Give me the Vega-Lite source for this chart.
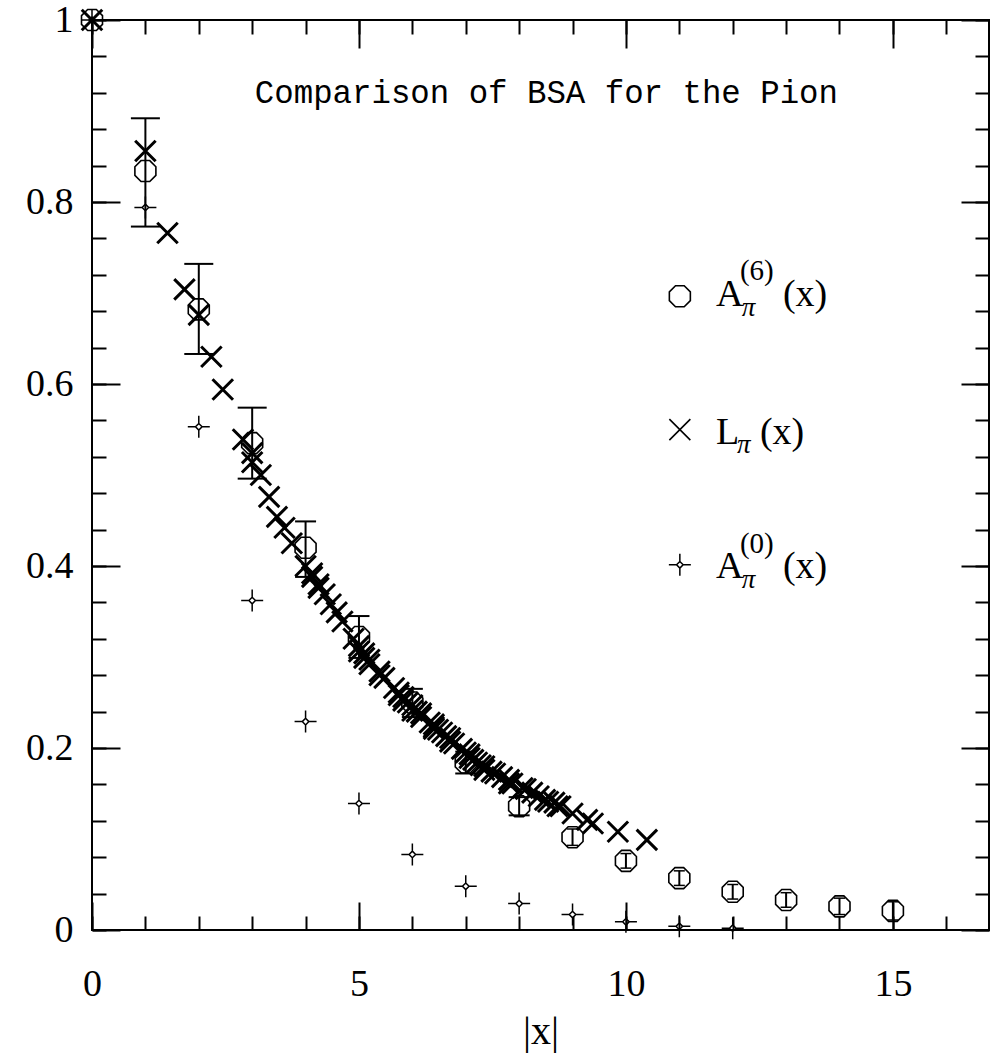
{
  "$schema": "https://vega.github.io/schema/vega-lite/v6.json",
  "width": 897,
  "height": 910,
  "autosize": {"type": "none"},
  "padding": {"left": 92, "top": 20, "right": 7, "bottom": 127},
  "background": "white",
  "config": {
    "view": {"stroke": "black", "strokeWidth": 2},
    "axis": {"domain": false, "grid": false, "tickColor": "black", "tickWidth": 2, "labelColor": "black", "labelFont": "Liberation Serif", "titleFont": "Liberation Serif", "titleColor": "black", "titleFontWeight": "normal"}
  },
  "datasets": {
    "a6": [
      {"x": 0, "y": 1.0, "lo": 1.0, "hi": 1.0},
      {"x": 1, "y": 0.834, "lo": 0.773, "hi": 0.892},
      {"x": 2, "y": 0.682, "lo": 0.633, "hi": 0.732},
      {"x": 3, "y": 0.535, "lo": 0.496, "hi": 0.574},
      {"x": 4, "y": 0.420, "lo": 0.388, "hi": 0.449},
      {"x": 5, "y": 0.322, "lo": 0.299, "hi": 0.345},
      {"x": 6, "y": 0.250, "lo": 0.234, "hi": 0.265},
      {"x": 7, "y": 0.184, "lo": 0.172, "hi": 0.196},
      {"x": 8, "y": 0.136, "lo": 0.126, "hi": 0.146},
      {"x": 9, "y": 0.102, "lo": 0.093, "hi": 0.111},
      {"x": 10, "y": 0.076, "lo": 0.068, "hi": 0.084},
      {"x": 11, "y": 0.057, "lo": 0.049, "hi": 0.065},
      {"x": 12, "y": 0.042, "lo": 0.034, "hi": 0.050},
      {"x": 13, "y": 0.033, "lo": 0.025, "hi": 0.041},
      {"x": 14, "y": 0.026, "lo": 0.017, "hi": 0.035},
      {"x": 15, "y": 0.021, "lo": 0.011, "hi": 0.031}
    ],
    "a0": [
      {"x": 0, "y": 1.0}, {"x": 1, "y": 0.794}, {"x": 2, "y": 0.553}, {"x": 3, "y": 0.362},
      {"x": 4, "y": 0.229}, {"x": 5, "y": 0.139}, {"x": 6, "y": 0.083}, {"x": 7, "y": 0.048},
      {"x": 8, "y": 0.029}, {"x": 9, "y": 0.017}, {"x": 10, "y": 0.009}, {"x": 11, "y": 0.004},
      {"x": 12, "y": 0.002}
    ],
    "lpi": [
      {"x": 0, "y": 1.0}, {"x": 1, "y": 0.856}, {"x": 1.414, "y": 0.766}, {"x": 1.732, "y": 0.704},
      {"x": 2, "y": 0.676}, {"x": 2.236, "y": 0.630}, {"x": 2.449, "y": 0.594}, {"x": 2.828, "y": 0.539},
      {"x": 3, "y": 0.524}, {"x": 3, "y": 0.514}, {"x": 3.162, "y": 0.500}, {"x": 3.317, "y": 0.476},
      {"x": 3.464, "y": 0.454}, {"x": 3.606, "y": 0.442}, {"x": 3.742, "y": 0.425}, {"x": 4, "y": 0.400},
      {"x": 4.123, "y": 0.392}, {"x": 4.123, "y": 0.388}, {"x": 4.243, "y": 0.380}, {"x": 4.243, "y": 0.376},
      {"x": 4.359, "y": 0.369}, {"x": 4.472, "y": 0.358}, {"x": 4.583, "y": 0.349}, {"x": 4.690, "y": 0.339},
      {"x": 4.899, "y": 0.320}, {"x": 5, "y": 0.312}, {"x": 5, "y": 0.306}, {"x": 5.099, "y": 0.304},
      {"x": 5.099, "y": 0.299}, {"x": 5.196, "y": 0.297}, {"x": 5.196, "y": 0.292}, {"x": 5.385, "y": 0.284},
      {"x": 5.385, "y": 0.280}, {"x": 5.477, "y": 0.277}, {"x": 5.657, "y": 0.266}, {"x": 5.745, "y": 0.261},
      {"x": 5.745, "y": 0.258}, {"x": 5.831, "y": 0.256}, {"x": 5.831, "y": 0.252}, {"x": 5.916, "y": 0.250},
      {"x": 6, "y": 0.247}, {"x": 6, "y": 0.241}, {"x": 6.083, "y": 0.240}, {"x": 6.164, "y": 0.238},
      {"x": 6.164, "y": 0.234}, {"x": 6.325, "y": 0.228}, {"x": 6.403, "y": 0.226}, {"x": 6.403, "y": 0.223},
      {"x": 6.403, "y": 0.221}, {"x": 6.481, "y": 0.220}, {"x": 6.557, "y": 0.217}, {"x": 6.633, "y": 0.213},
      {"x": 6.708, "y": 0.211}, {"x": 6.708, "y": 0.207}, {"x": 6.782, "y": 0.205}, {"x": 6.928, "y": 0.199},
      {"x": 7, "y": 0.195}, {"x": 7.071, "y": 0.193}, {"x": 7.071, "y": 0.189}, {"x": 7.141, "y": 0.187},
      {"x": 7.211, "y": 0.184}, {"x": 7.280, "y": 0.181}, {"x": 7.348, "y": 0.180}, {"x": 7.348, "y": 0.176},
      {"x": 7.483, "y": 0.174}, {"x": 7.550, "y": 0.172}, {"x": 7.681, "y": 0.168}, {"x": 7.810, "y": 0.165},
      {"x": 7.810, "y": 0.161}, {"x": 7.874, "y": 0.161}, {"x": 8.062, "y": 0.156}, {"x": 8.124, "y": 0.155},
      {"x": 8.246, "y": 0.151}, {"x": 8.367, "y": 0.147}, {"x": 8.485, "y": 0.143}, {"x": 8.544, "y": 0.141},
      {"x": 8.660, "y": 0.140}, {"x": 8.718, "y": 0.136}, {"x": 8.775, "y": 0.136}, {"x": 9, "y": 0.128},
      {"x": 9.274, "y": 0.121}, {"x": 9.381, "y": 0.117}, {"x": 9.849, "y": 0.108}, {"x": 10.392, "y": 0.099}
    ],
    "bigtext": [
      {"x": 11.685, "y": 0.6853, "t": "A"}, {"x": 12.94, "y": 0.6853, "t": "(x)"},
      {"x": 11.685, "y": 0.5344, "t": "L"}, {"x": 12.51, "y": 0.5344, "t": "(x)"},
      {"x": 11.685, "y": 0.3867, "t": "A"}, {"x": 12.94, "y": 0.3867, "t": "(x)"}
    ],
    "smalltext": [
      {"x": 12.135, "y": 0.7139, "t": "(6)"},
      {"x": 12.135, "y": 0.4141, "t": "(0)"}
    ],
    "pitext": [
      {"x": 12.17, "y": 0.6743, "t": "π"},
      {"x": 12.08, "y": 0.524, "t": "π"},
      {"x": 12.17, "y": 0.3757, "t": "π"}
    ]
  },
  "resolve": {"axis": {"x": "independent", "y": "independent"}},
  "layer": [
    {
      "data": {"name": "a6"},
      "transform": [{"filter": "datum.x > 0"}],
      "mark": {"type": "rule", "color": "black", "strokeWidth": 2},
      "encoding": {
        "x": {"field": "x", "type": "quantitative", "scale": {"domain": [0, 16.8], "nice": false, "zero": false},
              "axis": {"orient": "bottom", "values": [0, 5, 10, 15], "tickSize": -28, "labelFontSize": 38, "labelPadding": 63, "labelFlush": false, "labelOverlap": false, "title": "|x|", "titleFontSize": 40, "titlePadding": 8, "format": "d"}},
        "y": {"field": "lo", "type": "quantitative", "scale": {"domain": [0, 1], "nice": false, "zero": false},
              "axis": {"orient": "left", "values": [0, 0.2, 0.4, 0.6, 0.8, 1], "tickSize": -28, "labelFontSize": 38, "labelPadding": 47, "labelFlush": false, "labelOverlap": false, "labelBound": false, "format": "~g", "title": null}},
        "y2": {"field": "hi"}
      }
    },
    {
      "data": {"name": "a6"},
      "transform": [{"filter": "datum.x > 0 && datum.x <= 3"}, {"fold": ["lo", "hi"], "as": ["k", "v"]}],
      "mark": {"type": "point", "shape": "M-1,0L1,0", "filled": false, "stroke": "black", "strokeWidth": 2, "size": 841, "opacity": 1},
      "encoding": {
        "x": {"field": "x", "type": "quantitative", "scale": {"domain": [0, 16.8], "nice": false, "zero": false},
              "axis": {"orient": "bottom", "values": [0,1,2,3,4,5,6,7,8,9,10,11,12,13,14,15,16], "tickSize": -14, "labels": false, "title": null}},
        "y": {"field": "v", "type": "quantitative", "scale": {"domain": [0, 1], "nice": false, "zero": false},
              "axis": {"orient": "left", "values": [0,0.04,0.08,0.12,0.16,0.2,0.24,0.28,0.32,0.36,0.4,0.44,0.48,0.52,0.56,0.6,0.64,0.68,0.72,0.76,0.8,0.84,0.88,0.92,0.96,1], "tickSize": -14, "labels": false, "title": null}}
      }
    },
    {
      "data": {"name": "a6"},
      "transform": [{"filter": "datum.x > 3 && datum.x <= 8"}, {"fold": ["lo", "hi"], "as": ["k", "v"]}],
      "mark": {"type": "point", "shape": "M-1,0L1,0", "filled": false, "stroke": "black", "strokeWidth": 2, "size": 441, "opacity": 1},
      "encoding": {
        "x": {"field": "x", "type": "quantitative", "scale": {"domain": [0, 16.8], "nice": false, "zero": false},
              "axis": {"orient": "top", "values": [0, 5, 10, 15], "tickSize": -28, "labels": false, "title": null}},
        "y": {"field": "v", "type": "quantitative", "scale": {"domain": [0, 1], "nice": false, "zero": false},
              "axis": {"orient": "right", "values": [0, 0.2, 0.4, 0.6, 0.8, 1], "tickSize": -28, "labels": false, "title": null}}
      }
    },
    {
      "data": {"name": "a6"},
      "transform": [{"filter": "datum.x > 8"}, {"fold": ["lo", "hi"], "as": ["k", "v"]}],
      "mark": {"type": "point", "shape": "M-1,0L1,0", "filled": false, "stroke": "black", "strokeWidth": 1.5, "size": 121, "opacity": 1},
      "encoding": {
        "x": {"field": "x", "type": "quantitative", "scale": {"domain": [0, 16.8], "nice": false, "zero": false},
              "axis": {"orient": "top", "values": [0,1,2,3,4,5,6,7,8,9,10,11,12,13,14,15,16], "tickSize": -14, "labels": false, "title": null}},
        "y": {"field": "v", "type": "quantitative", "scale": {"domain": [0, 1], "nice": false, "zero": false},
              "axis": {"orient": "right", "values": [0,0.04,0.08,0.12,0.16,0.2,0.24,0.28,0.32,0.36,0.4,0.44,0.48,0.52,0.56,0.6,0.64,0.68,0.72,0.76,0.8,0.84,0.88,0.92,0.96,1], "tickSize": -14, "labels": false, "title": null}}
      }
    },
    {
      "data": {"name": "a6"},
      "mark": {"type": "point", "shape": "M-0.414,-1L0.414,-1L1,-0.414L1,0.414L0.414,1L-0.414,1L-1,0.414L-1,-0.414Z", "filled": false, "stroke": "black", "strokeWidth": 1.6, "size": 441, "opacity": 1},
      "encoding": {
        "x": {"field": "x", "type": "quantitative", "axis": null},
        "y": {"field": "y", "type": "quantitative", "axis": null}
      }
    },
    {
      "data": {"name": "a0"},
      "mark": {"type": "point", "shape": "M-1,0L-0.3,0M0.3,0L1,0M0,-1L0,-0.3M0,0.3L0,1M-0.3,0L0,-0.3L0.3,0L0,0.3Z", "filled": false, "stroke": "black", "strokeWidth": 1.5, "size": 484, "opacity": 1},
      "encoding": {
        "x": {"field": "x", "type": "quantitative", "axis": null},
        "y": {"field": "y", "type": "quantitative", "axis": null}
      }
    },
    {
      "data": {"name": "lpi"},
      "mark": {"type": "point", "shape": "M-1,-1L1,1M-1,1L1,-1", "filled": false, "stroke": "black", "strokeWidth": 3, "size": 420, "opacity": 1},
      "encoding": {
        "x": {"field": "x", "type": "quantitative", "axis": null},
        "y": {"field": "y", "type": "quantitative", "axis": null}
      }
    },
    {
      "data": {"values": [{"x": 11.01, "y": 0.6964}]},
      "mark": {"type": "point", "shape": "M-0.414,-1L0.414,-1L1,-0.414L1,0.414L0.414,1L-0.414,1L-1,0.414L-1,-0.414Z", "filled": false, "stroke": "black", "strokeWidth": 1.6, "size": 441, "opacity": 1},
      "encoding": {"x": {"field": "x", "type": "quantitative", "axis": null}, "y": {"field": "y", "type": "quantitative", "axis": null}}
    },
    {
      "data": {"values": [{"x": 11.01, "y": 0.5498}]},
      "mark": {"type": "point", "shape": "M-1,-1L1,1M-1,1L1,-1", "filled": false, "stroke": "black", "strokeWidth": 1.6, "size": 441, "opacity": 1},
      "encoding": {"x": {"field": "x", "type": "quantitative", "axis": null}, "y": {"field": "y", "type": "quantitative", "axis": null}}
    },
    {
      "data": {"values": [{"x": 11.01, "y": 0.4013}]},
      "mark": {"type": "point", "shape": "M-1,0L-0.3,0M0.3,0L1,0M0,-1L0,-0.3M0,0.3L0,1M-0.3,0L0,-0.3L0.3,0L0,0.3Z", "filled": false, "stroke": "black", "strokeWidth": 1.5, "size": 484, "opacity": 1},
      "encoding": {"x": {"field": "x", "type": "quantitative", "axis": null}, "y": {"field": "y", "type": "quantitative", "axis": null}}
    },
    {
      "data": {"name": "bigtext"},
      "mark": {"type": "text", "align": "left", "baseline": "alphabetic", "font": "Liberation Serif", "fontSize": 38, "color": "black"},
      "encoding": {"x": {"field": "x", "type": "quantitative", "axis": null}, "y": {"field": "y", "type": "quantitative", "axis": null}, "text": {"field": "t"}}
    },
    {
      "data": {"name": "smalltext"},
      "mark": {"type": "text", "align": "left", "baseline": "alphabetic", "font": "Liberation Serif", "fontSize": 29, "color": "black"},
      "encoding": {"x": {"field": "x", "type": "quantitative", "axis": null}, "y": {"field": "y", "type": "quantitative", "axis": null}, "text": {"field": "t"}}
    },
    {
      "data": {"name": "pitext"},
      "mark": {"type": "text", "align": "left", "baseline": "alphabetic", "font": "Liberation Serif", "fontSize": 27, "fontStyle": "italic", "color": "black"},
      "encoding": {"x": {"field": "x", "type": "quantitative", "axis": null}, "y": {"field": "y", "type": "quantitative", "axis": null}, "text": {"field": "t"}}
    },
    {
      "data": {"values": [{"x": 3.05, "y": 0.909, "t": "Comparison of BSA for the Pion"}]},
      "mark": {"type": "text", "align": "left", "baseline": "alphabetic", "font": "Liberation Mono", "fontSize": 32.4, "color": "black"},
      "encoding": {"x": {"field": "x", "type": "quantitative", "axis": null}, "y": {"field": "y", "type": "quantitative", "axis": null}, "text": {"field": "t"}}
    }
  ]
}
